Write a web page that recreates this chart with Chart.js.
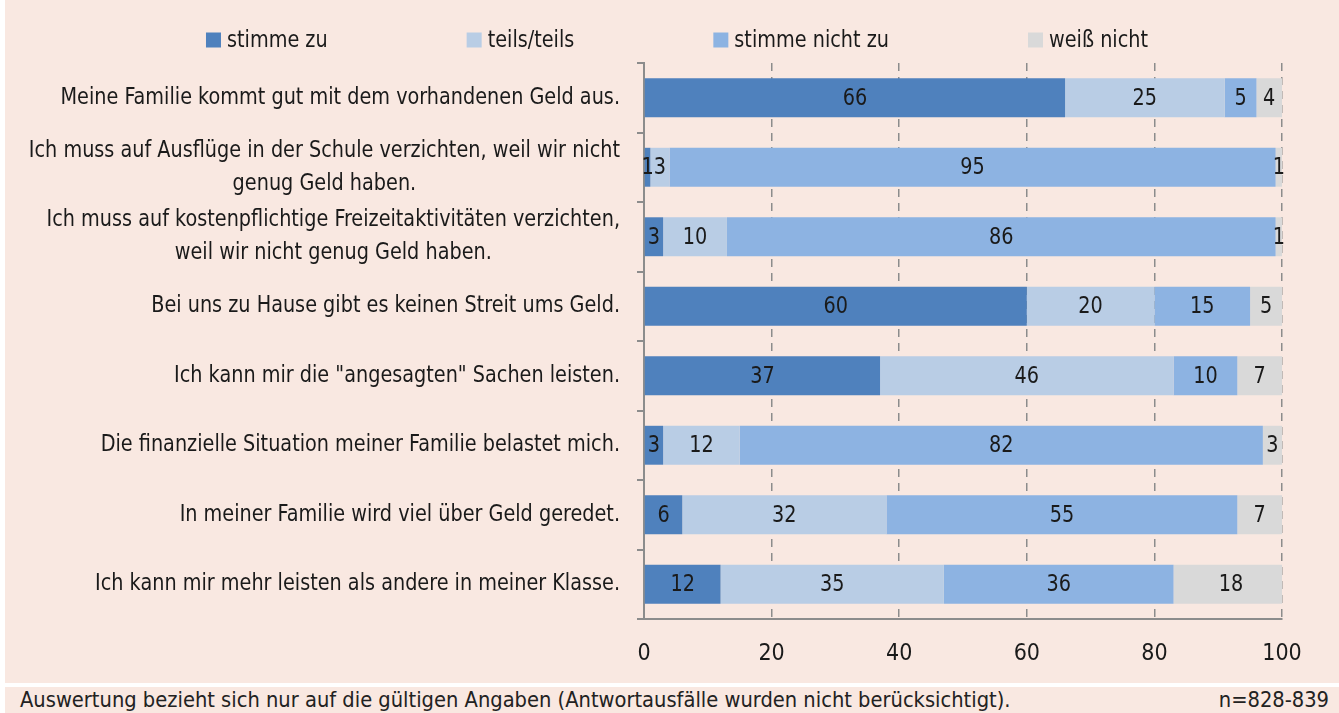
<!DOCTYPE html>
<html>
<head>
<meta charset="utf-8">
<script src="https://cdn.jsdelivr.net/npm/chart.js@4.4.0/dist/chart.umd.min.js"></script>
<style>
  body { margin: 0; background: #fff; width: 1339px; height: 713px; overflow: hidden; }
  #box { position: absolute; left: 5px; top: 0; width: 1334px; height: 683px; background: #f9e8e1; }
  #note { position: absolute; left: 5px; top: 687px; width: 1334px; height: 26px; background: #f9e8e1;
          font-family: "Liberation Sans Narrow", "DejaVu Sans Condensed", sans-serif; font-size: 21.7px; color: #222; }
  #note .l { position: absolute; left: 15px; top: 0; }
  #note .r { position: absolute; right: 10px; top: 0; }
</style>
</head>
<body>
<div id="box"><canvas id="chart" width="1334" height="683"></canvas></div>
<div id="note"><span class="l">Auswertung bezieht sich nur auf die gültigen Angaben (Antwortausfälle wurden nicht berücksichtigt).</span><span class="r">n=828-839</span></div>
<script>
const FONT = '"Liberation Sans Narrow", "DejaVu Sans Condensed", sans-serif';
const FS = 23;
const SX = 0.93; // squeeze text a little to get the narrow look

const categories = [
    'Meine Familie kommt gut mit dem vorhandenen Geld aus.',
    ['Ich muss auf Ausflüge in der Schule verzichten, weil wir nicht', 'genug Geld haben.'],
    ['Ich muss auf kostenpflichtige Freizeitaktivitäten verzichten,', 'weil wir nicht genug Geld haben.'],
    'Bei uns zu Hause gibt es keinen Streit ums Geld.',
    'Ich kann mir die "angesagten" Sachen leisten.',
    'Die finanzielle Situation meiner Familie belastet mich.',
    'In meiner Familie wird viel über Geld geredet.',
    'Ich kann mir mehr leisten als andere in meiner Klasse.'
];
const seriesNames = ['stimme zu', 'teils/teils', 'stimme nicht zu', 'weiß nicht'];
const stimmeZu      = [66, 1, 3, 60, 37, 3, 6, 12];
const teilsTeils    = [25, 3, 10, 20, 46, 12, 32, 35];
const stimmeNichtZu = [5, 95, 86, 15, 10, 82, 55, 36];
const weissNicht    = [4, 1, 1, 5, 7, 3, 7, 18];
const xTicks = [0, 20, 40, 60, 80, 100];
const colors = ['#4f81bd', '#b9cde5', '#8db3e2', '#d9d9d9'];

const seriesValues = [stimmeZu, teilsTeils, stimmeNichtZu, weissNicht];

function textW(ctx, s) {
    return ctx.measureText(s).width * SX;
}

// draws squeezed text, x is the left edge / centre depending on ctx.textAlign
function squeezed(ctx, s, x, y) {
    ctx.save();
    ctx.translate(x, y);
    ctx.scale(SX, 1);
    ctx.fillText(s, 0, 0);
    ctx.restore();
}

// legend drawn as one row, fixed gap between items
const topLegend = {
    id: 'topLegend',
    afterDraw(chart) {
        const ctx = chart.ctx;
        const box = 15, gap = 6, space = 139;
        ctx.save();
        ctx.font = FS + 'px ' + FONT;
        ctx.textBaseline = 'middle';
        ctx.textAlign = 'left';
        const widths = chart.data.datasets.map(ds => textW(ctx, ds.label));
        const total = widths.reduce((a, w) => a + box + gap + w, 0) + space * (widths.length - 1);
        let x = chart.width / 2 + 5 - total / 2;
        const y = 40;
        chart.data.datasets.forEach((ds, i) => {
            ctx.fillStyle = ds.backgroundColor;
            ctx.fillRect(x, y - box / 2, box, box);
            ctx.fillStyle = '#1a1a1a';
            squeezed(ctx, ds.label, x + box + gap, y + 1);
            x += box + gap + widths[i] + space;
        });
        ctx.restore();
    }
};

// category labels: block right aligned, lines centred within block
const yLabels = {
    id: 'yLabels',
    afterDraw(chart) {
        const ctx = chart.ctx;
        const yScale = chart.scales.y;
        const right = chart.chartArea.left - 24;
        ctx.save();
        ctx.font = FS + 'px ' + FONT;
        ctx.fillStyle = '#1a1a1a';
        ctx.textBaseline = 'middle';
        ctx.textAlign = 'center';
        chart.data.labels.forEach((lab, i) => {
            const lines = Array.isArray(lab) ? lab : [lab];
            const w = Math.max(...lines.map(l => textW(ctx, l)));
            const cy = yScale.getPixelForValue(i);
            const lh = 33;
            lines.forEach((l, j) => {
                squeezed(ctx, l, right - w / 2, cy + (j - (lines.length - 1) / 2) * lh);
            });
        });
        ctx.restore();
    }
};

// value labels in the middle of each segment
const barValues = {
    id: 'barValues',
    afterDatasetsDraw(chart) {
        const ctx = chart.ctx;
        ctx.save();
        ctx.font = FS + 'px ' + FONT;
        ctx.fillStyle = '#1a1a1a';
        ctx.textAlign = 'center';
        ctx.textBaseline = 'middle';
        chart.data.datasets.forEach((ds, di) => {
            chart.getDatasetMeta(di).data.forEach((bar, i) => {
                const v = ds.data[i];
                if (!v) return;
                squeezed(ctx, String(v), (bar.x + bar.base) / 2, bar.y + 1);
            });
        });
        ctx.restore();
    }
};

new Chart(document.getElementById('chart'), {
    type: 'bar',
    data: {
        labels: categories,
        datasets: seriesNames.map((name, i) => ({
            label: name,
            data: seriesValues[i],
            backgroundColor: colors[i],
            borderWidth: 0,
            barPercentage: 1,
            categoryPercentage: 0.56
        }))
    },
    options: {
        indexAxis: 'y',
        responsive: false,
        animation: false,
        layout: { padding: { top: 63, right: 57, left: 0, bottom: 0 } },
        plugins: { legend: { display: false }, tooltip: { enabled: false } },
        scales: {
            x: {
                stacked: true,
                min: 0,
                max: 100,
                afterBuildTicks(scale) { scale.ticks = xTicks.map(v => ({ value: v })); },
                ticks: { font: { family: FONT, size: FS }, color: '#1a1a1a', padding: 21, maxRotation: 0 },
                grid: {
                    color: c => (c.tick && c.tick.value === 0) ? 'rgba(0,0,0,0)' : '#8c8c8c',
                    lineWidth: 1.5,
                    drawTicks: false
                },
                border: { color: '#8c8c8c', width: 2, dash: [8, 6] },
                afterFit(scale) { scale.height = 64; }
            },
            y: {
                stacked: true,
                ticks: { display: false },
                grid: { drawOnChartArea: false, offset: true, tickLength: 7, color: '#8c8c8c', lineWidth: 2 },
                border: { color: '#8c8c8c', width: 2 },
                afterFit(scale) { scale.width = 639; }
            }
        }
    },
    plugins: [topLegend, yLabels, barValues]
});
</script>
</body>
</html>
